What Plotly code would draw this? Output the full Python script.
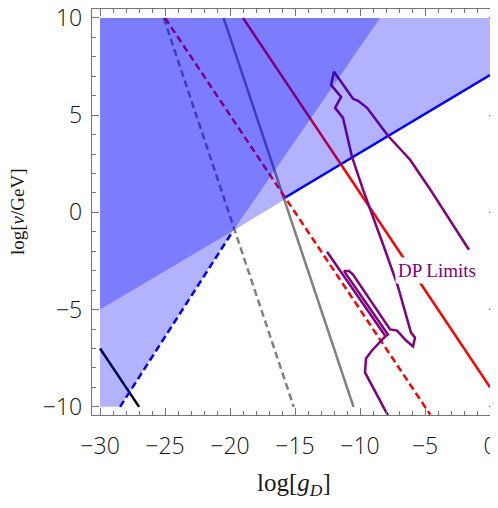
"""Dark photon parameter space: log(v/GeV) vs log(g_D)."""
import plotly.graph_objects as go

# straight constraint lines, endpoints in (log g_D, log v/GeV)
black_x = [-30, -27]
black_y = [-7, -10]
blue_dash_x = [-28.46, -19.77]
blue_dash_y = [-10, -0.95]
blue_solid_x = [-15.92, 0]
blue_solid_y = [0.70, 7.06]
gray_dash_x = [-25.1, -15.1]
gray_dash_y = [10, -10]
gray_solid_x = [-20.5, -10.5]
gray_solid_y = [10, -10]
red_dash_x = [-25.0, -4.6]
red_dash_y = [10, -10.4]
red_solid_x = [-19.0, 0]
red_solid_y = [10, -9.0]

# DP limits contour
dp_main_x = [-1.62, -3.08, -4.69, -6.15, -7.85, -9.46, -10.15, -10.54, -12.0,
             -12.23, -11.46, -11.92, -11.31, -10.62, -9.77, -8.08, -7.08,
             -6.08, -5.77, -5.92, -6.46, -7.15, -7.69, -10.54, -10.85, -11.23,
             -7.85, -8.15, -9.08, -9.54, -9.62, -7.69]
dp_main_y = [-1.92, -0.37, 1.27, 2.71, 3.94, 5.38, 5.74, 5.84, 7.23,
             6.56, 5.94, 5.38, 4.86, 2.86, 1.17, -1.92, -3.82,
             -6.18, -6.44, -6.90, -6.59, -6.08, -6.02, -3.20, -3.02, -3.02,
             -6.28, -6.44, -7.10, -7.51, -8.23, -10.65]
dp_tail_x = [-12.54, -8.08]
dp_tail_y = [-2.02, -6.33]

# shaded regions
union_x = [-30, -28.46, -19.77, 0, 0, -30]
union_y = [-10, -10, -0.95, 7.06, 10, 10]
inter_x = [-30, -19.77, -8.46, -30]
inter_y = [-5, -0.95, 10, 10]

x_ticks = [-30, -25, -20, -15, -10, -5, 0]
y_ticks = [-10, -5, 0, 5, 10]

fig = go.Figure()

def add_line(x, y, color, dash="solid"):
    fig.add_trace(go.Scatter(x=x, y=y, mode="lines",
                             line=dict(color=color, width=2.5, dash=dash),
                             hoverinfo="skip", showlegend=False))

add_line(black_x, black_y, "black")
add_line(blue_dash_x, blue_dash_y, "#0000ff", "7px,4px")
add_line(blue_solid_x, blue_solid_y, "#0000ff")
add_line(gray_dash_x, gray_dash_y, "#808080", "7px,4px")
add_line(gray_solid_x, gray_solid_y, "#808080")
add_line(red_dash_x, red_dash_y, "#ff0000", "7px,4px")
add_line(red_solid_x, red_solid_y, "#ff0000")
add_line(dp_main_x, dp_main_y, "#800080")
add_line(dp_tail_x, dp_tail_y, "#800080")

# fills go on top, the overlap gives the darker patch
for fx, fy in [(union_x, union_y), (inter_x, inter_y)]:
    fig.add_trace(go.Scatter(x=fx, y=fy, mode="lines", fill="toself",
                             fillcolor="rgba(0,0,255,0.3)",
                             line=dict(width=0, color="rgba(0,0,0,0)"),
                             hoverinfo="skip", showlegend=False))

fig.add_annotation(x=-4.1, y=-3.0, text="DP Limits", showarrow=False,
                   font=dict(family="Liberation Serif", size=19, color="#800080"),
                   bgcolor="white", borderpad=2)

fig.add_annotation(x=0.5, y=-0.172, xref="paper", yref="paper",
                   xanchor="center", yanchor="middle",
                   text="log[<i>g</i><sub><i>D</i></sub>]", showarrow=False,
                   font=dict(family="Liberation Serif", size=25, color="#1a1a1a"))
fig.add_annotation(x=-0.1856, y=0.5, xref="paper", yref="paper",
                   xanchor="center", yanchor="middle",
                   text="log[<i>ν</i>/GeV]", showarrow=False, textangle=-90,
                   font=dict(family="Liberation Serif", size=19, color="#1a1a1a"))

axis_style = dict(showline=True, mirror="allticks", linecolor="#777777",
                  linewidth=1.3, ticks="inside", ticklen=7, tickwidth=1,
                  tickcolor="#777777", showgrid=False, zeroline=False,
                  automargin=False, ticklabeloverflow="allow",
                  tickfont=dict(family="Open Sans", size=23, weight=300,
                                color="#111111"),
                  minor=dict(dtick=1, ticks="inside", ticklen=4,
                             tickcolor="#777777", showgrid=False))

fig.update_xaxes(range=[-30.62, 0.46], tickvals=x_ticks, ticklabelstandoff=10,
                 **axis_style)
fig.update_yaxes(range=[-10.42, 10.46], tickvals=y_ticks, ticklabelstandoff=4,
                 **axis_style)

# the page body keeps its 8px margin, so the figure is sized to fit inside
fig.update_layout(width=490, height=492, autosize=False,
                  margin=dict(l=84, r=2, t=1, b=85),
                  plot_bgcolor="white", paper_bgcolor="white")

fig.write_html("out.html")
